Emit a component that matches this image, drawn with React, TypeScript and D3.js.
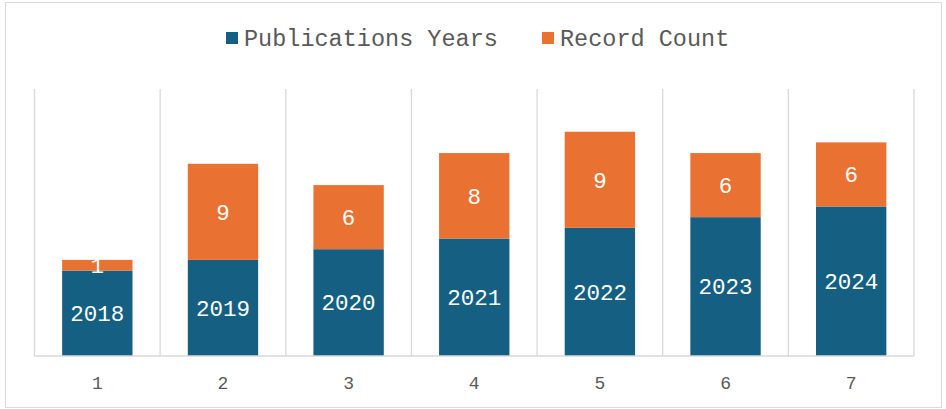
import { useEffect, useRef } from 'react';
import * as d3 from 'd3';

const categories = ['1', '2', '3', '4', '5', '6', '7'];
const pubYears = [2018, 2019, 2020, 2021, 2022, 2023, 2024];
const recordCount = [1, 9, 6, 8, 9, 6, 6];
const seriesNames = ['Publications Years', 'Record Count'];
const colors = ['#156082', '#E97132'];

const W = 946;
const H = 409;

export default function App() {
  const svgRef = useRef<SVGSVGElement>(null);

  useEffect(() => {
    if (!svgRef.current) return;
    const svg = d3.select(svgRef.current);
    svg.selectAll('*').remove();

    // chart frame
    svg.append('rect')
      .attr('x', 5.5).attr('y', 2.5)
      .attr('width', 936).attr('height', 405)
      .attr('fill', '#fff')
      .attr('stroke', '#d9d9d9');

    const x = d3.scaleBand<string>()
      .domain(categories)
      .range([34.5, 914])
      .paddingInner(0.44)
      .paddingOuter(0.22);

    const y = d3.scaleLinear().domain([2010, 2035]).range([356, 89]);

    // category separators
    const step = x.step();
    const edges = d3.range(categories.length + 1).map(i => 34.5 + i * step);
    svg.append('g')
      .selectAll('line')
      .data(edges)
      .join('line')
      .attr('x1', d => d).attr('x2', d => d)
      .attr('y1', y(2035)).attr('y2', y(2010))
      .attr('stroke', '#d9d9d9')
      .attr('stroke-width', 1.3);

    const rows = categories.map((c, i) => ({ cat: c, year: pubYears[i], count: recordCount[i] }));

    // bottom series
    svg.append('g')
      .selectAll('rect')
      .data(rows)
      .join('rect')
      .attr('x', d => x(d.cat)!)
      .attr('width', x.bandwidth())
      .attr('y', d => y(d.year))
      .attr('height', d => y(2010) - y(d.year))
      .attr('fill', colors[0]);

    // stacked series
    svg.append('g')
      .selectAll('rect')
      .data(rows)
      .join('rect')
      .attr('x', d => x(d.cat)!)
      .attr('width', x.bandwidth())
      .attr('y', d => y(d.year + d.count))
      .attr('height', d => y(d.year) - y(d.year + d.count))
      .attr('fill', colors[1]);

    // baseline
    svg.append('line')
      .attr('x1', 34.5).attr('x2', 914)
      .attr('y1', y(2010)).attr('y2', y(2010))
      .attr('stroke', '#d9d9d9')
      .attr('stroke-width', 1.5);

    const labelFont = '"Liberation Mono", monospace';

    svg.append('g')
      .selectAll('text')
      .data(rows)
      .join('text')
      .attr('x', d => x(d.cat)! + x.bandwidth() / 2)
      .attr('y', d => (y(d.year) + y(2010)) / 2)
      .attr('dy', '0.35em')
      .attr('text-anchor', 'middle')
      .attr('fill', '#fff')
      .attr('font-family', labelFont)
      .attr('font-size', 22.5)
      .text(d => d.year);

    svg.append('g')
      .selectAll('text')
      .data(rows)
      .join('text')
      .attr('x', d => x(d.cat)! + x.bandwidth() / 2)
      .attr('y', d => (y(d.year) + y(d.year + d.count)) / 2)
      .attr('dy', '0.35em')
      .attr('text-anchor', 'middle')
      .attr('fill', '#fff')
      .attr('font-family', labelFont)
      .attr('font-size', 22.5)
      .text(d => d.count);

    // category axis labels
    svg.append('g')
      .selectAll('text')
      .data(categories)
      .join('text')
      .attr('x', d => x(d)! + x.bandwidth() / 2)
      .attr('y', 383)
      .attr('dy', '0.35em')
      .attr('text-anchor', 'middle')
      .attr('fill', '#595959')
      .attr('font-family', labelFont)
      .attr('font-size', 18)
      .text(d => d);

    // legend
    const legendX = [226, 542];
    const lg = svg.append('g')
      .selectAll('g')
      .data(seriesNames)
      .join('g')
      .attr('transform', (d, i) => `translate(${legendX[i]},0)`);
    lg.append('rect')
      .attr('x', 0).attr('y', 32)
      .attr('width', 12).attr('height', 12)
      .attr('fill', (d, i) => colors[i]);
    lg.append('text')
      .attr('x', 18).attr('y', 38)
      .attr('dy', '0.35em')
      .attr('fill', '#595959')
      .attr('font-family', '"Liberation Mono", monospace')
      .attr('font-size', 23.5)
      .text(d => d);
  }, []);

  return (
    <svg
      ref={svgRef}
      width={W}
      height={H}
      style={{ position: 'absolute', left: 0, top: 0 }}
    />
  );
}
